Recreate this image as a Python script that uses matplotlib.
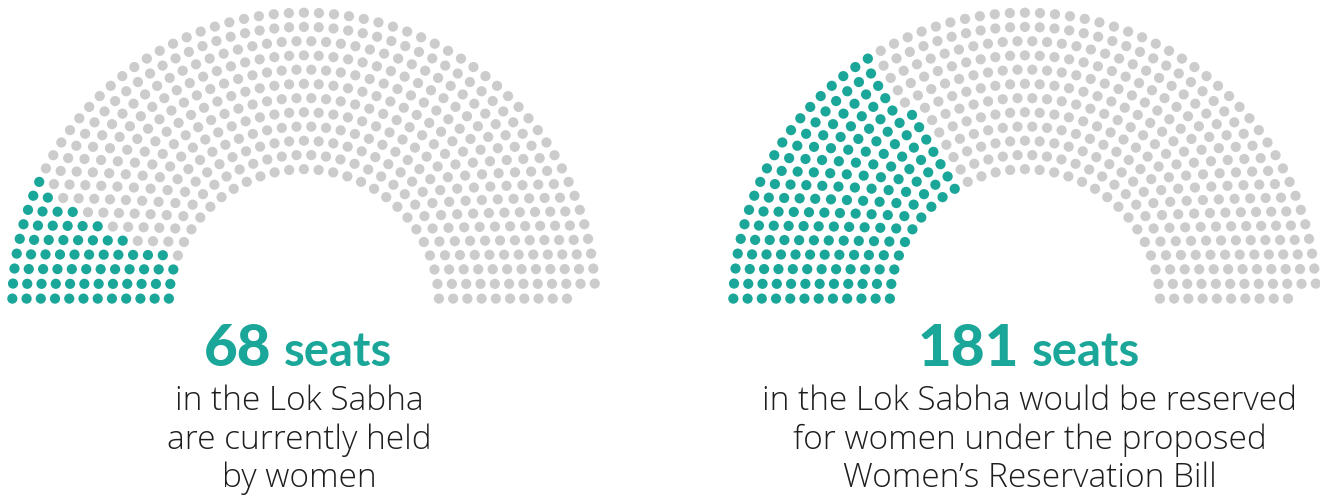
import numpy as np
import matplotlib
matplotlib.use("Agg")
import matplotlib.pyplot as plt

# ---------------- data ----------------
TOTAL_SEATS = 543
# seat slots per concentric row, inner -> outer
row_slots = [29, 32, 35, 38, 41, 44, 47, 50, 53, 56, 59, 61]
# women's seats in each row (inner -> outer), left chart: currently held
women_current_by_row = [3, 4, 4, 4, 5, 5, 6, 6, 7, 7, 8, 9]
# right chart: seats that would be reserved
women_reserved_by_row = [10, 11, 12, 13, 14, 15, 16, 16, 17, 18, 19, 20]
headline_values = [68, 181]
headline_unit = "seats"
captions = [
    ["in the Lok Sabha", "are currently held", "by women"],
    ["in the Lok Sabha would be reserved", "for women under the proposed",
     "Women\u2019s Reservation Bill"],
]

# ---------------- style ----------------
TEAL = "#1aa698"
GREY = "#cccccc"
TEXT = "#1e1e1e"
HEAD_FONT = ["Lato", "DejaVu Sans"]
BODY_FONT = ["Open Sans", "DejaVu Sans"]

W, H = 1320, 496
fig = plt.figure(figsize=(W / 100, H / 100), dpi=100)
ax = fig.add_axes([0, 0, 1, 1])
ax.set_xlim(0, W)
ax.set_ylim(H, 0)
ax.axis("off")

n_rows = len(row_slots)
radii = np.array([(3 * n_rows + 4 * i - 2) / (4 * n_rows) for i in range(1, n_rows + 1)])
dot_r = 0.4 / n_rows


def seat_layout():
    seats = []
    for k, (R, n) in enumerate(zip(radii, row_slots)):
        m = np.arcsin(dot_r / R)
        for j in range(n):
            th = m + j * (np.pi - 2 * m) / (n - 1)
            seats.append((th, R, k, j))
    seats.sort(key=lambda s: (s[0], s[1]))
    return seats[:TOTAL_SEATS]


seats = seat_layout()
scale = 170.7
centers_x = [303.9, 1024.9]
center_y = 304.3
women_rows = [women_current_by_row, women_reserved_by_row]
head_cx = [298, 1029]
text_cx = [299, 1030]

for c in range(2):
    xs, ys, cols = [], [], []
    for th, R, k, j in seats:
        xs.append(centers_x[c] - R * scale * np.cos(th))
        ys.append(center_y - R * scale * np.sin(th))
        cols.append(TEAL if j < women_rows[c][k] else GREY)
    ax.scatter(xs, ys, s=54, c=cols, linewidths=0, zorder=2)

fig.canvas.draw()
renderer = fig.canvas.get_renderer()

for c in range(2):
    t1 = ax.text(0, 366.5, str(headline_values[c]), fontsize=42, fontweight="black",
                 color=TEAL, family=HEAD_FONT, va="baseline", ha="left")
    t2 = ax.text(0, 366.5, headline_unit, fontsize=34, fontweight="bold",
                 color=TEAL, family=HEAD_FONT, va="baseline", ha="left")
    w1 = t1.get_window_extent(renderer).width
    w2 = t2.get_window_extent(renderer).width
    gap = 12
    x0 = head_cx[c] - (w1 + gap + w2) / 2
    t1.set_x(x0)
    t2.set_x(x0 + w1 + gap)
    for i, line in enumerate(captions[c]):
        ax.text(text_cx[c], 410.5 + i * 38.3, line, fontsize=24, fontweight="light",
                color=TEXT, family=BODY_FONT, va="baseline", ha="center")

fig.savefig("out.png", dpi=100)
